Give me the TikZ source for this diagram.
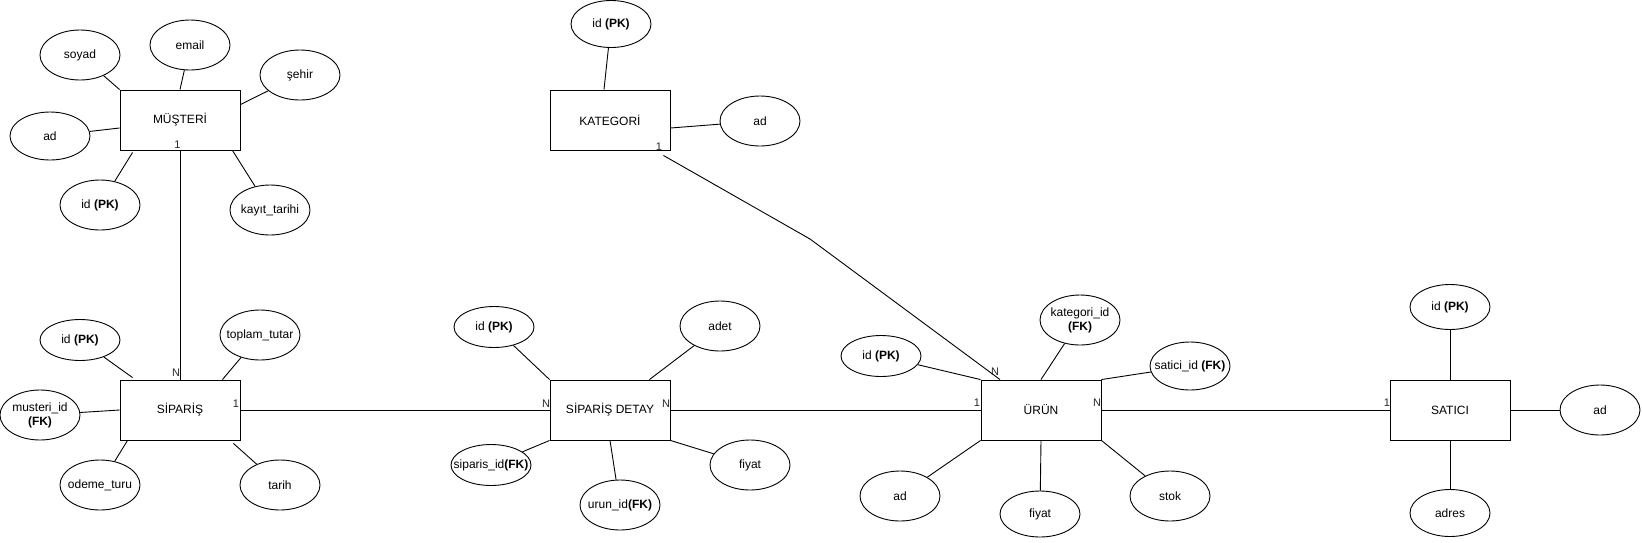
\documentclass[tikz,border=0pt]{standalone}
\usepackage{fontspec}
\setmainfont{Liberation Sans}
\usetikzlibrary{shapes.geometric}
\begin{document}
\begin{tikzpicture}[x=1pt,y=-1pt,line width=0.9pt,
  ent/.style={draw, minimum width=120pt, minimum height=60pt, inner sep=0pt, font=\fontsize{12}{14}\selectfont},
  attr/.style={draw, ellipse, minimum width=80pt, minimum height=50pt, inner xsep=-22pt, inner ysep=0pt, font=\fontsize{12}{14}\selectfont, align=center},
  attrs/.style={attr, minimum height=41pt},
  card/.style={font=\fontsize{11}{12}\selectfont, inner sep=0pt, text=black!85}]
\useasboundingbox (0,0) rectangle (1642,542);

% entities
\node[ent] (m)  at (180,120) {MÜŞTERİ};
\node[ent] (s)  at (180,410) {SİPARİŞ};
\node[ent] (sd) at (610,410) {SİPARİŞ DETAY};
\node[ent] (u)  at (1041,410) {ÜRÜN};
\node[ent] (sa) at (1450,410) {SATICI};
\node[ent] (k)  at (610,120) {KATEGORİ};

% MÜŞTERİ attributes
\node[attr] (msoyad) at (80,55) {soyad};
\node[attr] (memail) at (190,45) {email};
\node[attr] (msehir) at (300,75) {şehir};
\node[attr, minimum height=48pt] (mad) at (50,136) {ad};
\node[attr] (mid) at (100,205) {id \textbf{(PK)}};
\node[attr] (mkayit) at (270,210) {kayıt\_tarihi};
\draw (msoyad) -- (m.north west);
\draw (memail) -- (m.north);
\draw (msehir) -- ([yshift=-15pt]m.north east);
\draw (mad) -- ([yshift=-8pt]m.west);
\draw (mid) -- ([xshift=13pt,yshift=-2pt]m.south west);
\draw (mkayit) -- ([xshift=-8pt]m.south east);

% SİPARİŞ attributes
\node[attrs] (sid) at (80,340) {id \textbf{(PK)}};
\node[attr] (stop) at (260,335) {toplam\_tutar};
\node[attr] (smus) at (40,415) {musteri\_id\\\textbf{(FK)}};
\node[attr] (sode) at (100,485) {odeme\_turu};
\node[attr] (star) at (280,485) {tarih};
\draw (sid) -- ([xshift=13pt,yshift=2pt]s.north west);
\draw (stop) -- ([xshift=-18pt]s.north east);
\draw (smus) -- (s.west);
\draw (sode) -- ([xshift=8pt]s.south west);
\draw (star) -- ([xshift=-7pt,yshift=-3pt]s.south east);

% SİPARİŞ DETAY attributes
\node[attrs] (did) at (494,327) {id \textbf{(PK)}};
\node[attr] (dadet) at (720,326) {adet};
\node[attrs] (dsip) at (491,465) {siparis\_id\textbf{(FK)}};
\node[attr] (durun) at (620,505) {urun\_id\textbf{(FK)}};
\node[attr] (dfiy) at (750,465) {fiyat};
\draw (did) -- (sd.north west);
\draw (dadet) -- ([xshift=-21pt]sd.north east);
\draw (dsip) -- (sd.south west);
\draw (durun) -- (sd.south);
\draw (dfiy) -- (sd.south east);

% ÜRÜN attributes
\node[attrs] (uid) at (881,356) {id \textbf{(PK)}};
\node[attr] (ukat) at (1080,320) {kategori\_id\\\textbf{(FK)}};
\node[attr, minimum height=48pt] (usat) at (1190,366) {satici\_id \textbf{(FK)}};
\node[attr] (uad) at (900,496) {ad};
\node[attr, minimum height=46pt] (ufiy) at (1040,514) {fiyat};
\node[attr] (ustok) at (1170,496) {stok};
\draw (uid) -- (u.north west);
\draw (ukat) -- (u.north);
\draw (usat) -- (u.north east);
\draw (uad) -- (u.south west);
\draw (ufiy) -- (u.south);
\draw (ustok) -- (u.south east);

% SATICI attributes
\node[attr, minimum height=45pt] (said) at (1450,307) {id \textbf{(PK)}};
\node[attr] (saad) at (1600,410) {ad};
\node[attr, minimum height=47pt] (saadr) at (1450,513) {adres};
\draw (said) -- (sa.north);
\draw (saad) -- (sa.east);
\draw (saadr) -- (sa.south);

% KATEGORİ attributes
\node[attr, minimum height=47pt] (kid) at (611,24) {id \textbf{(PK)}};
\node[attr] (kad) at (760,121) {ad};
\draw (kid) -- ([xshift=-6pt]k.north);
\draw (kad) -- ([yshift=-8pt]k.east);

% relationships
\coordinate (kbend) at (810,239);
\draw (m.south) -- (s.north);
\draw (s.east) -- (sd.west);
\draw (sd.east) -- (u.west);
\draw (u.east) -- (sa.west);
\draw ([xshift=-7pt,yshift=-5pt]k.south east) -- (kbend) -- ([xshift=-41pt]u.north);

% cardinalities
\node[card] (c1) at (177.5,145) {1};
\node[card] (c2) at (176,373) {N};
\node[card] (c3) at (236,404) {1};
\node[card] (c4) at (546,404) {N};
\node[card] (c5) at (666,404) {N};
\node[card] (c6) at (977,403) {1};
\node[card] (c7) at (1097,403) {N};
\node[card] (c8) at (995,372) {N};
\node[card] (c9) at (1387,403) {1};
\node[card] (c10) at (659,147) {1};
\end{tikzpicture}
\end{document}
